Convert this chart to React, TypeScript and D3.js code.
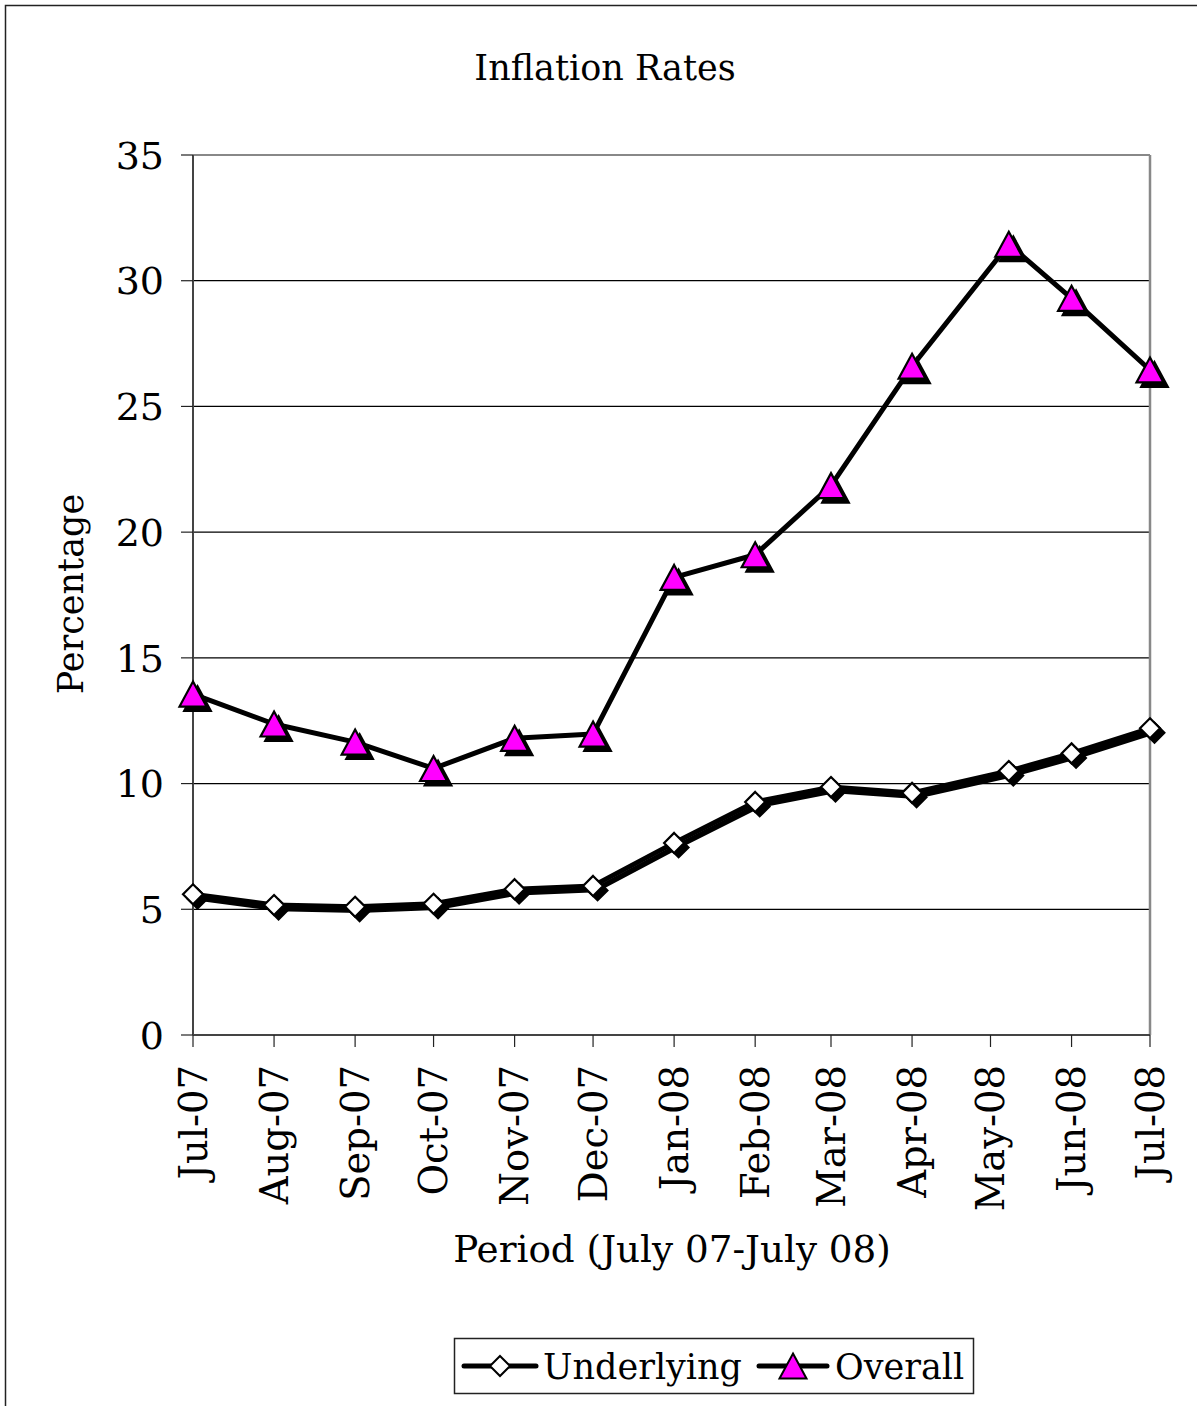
import React from "react";
import * as d3 from "d3";

const periodLabels = ["Jul-07", "Aug-07", "Sep-07", "Oct-07", "Nov-07", "Dec-07", "Jan-08", "Feb-08", "Mar-08", "Apr-08", "May-08", "Jun-08", "Jul-08"];
const tickDates = ["2007-07-01", "2007-08-01", "2007-09-01", "2007-10-01", "2007-11-01", "2007-12-01", "2008-01-01", "2008-02-01", "2008-03-01", "2008-04-01", "2008-05-01", "2008-06-01", "2008-07-01"];
const pointDates = ["2007-07-01", "2007-08-01", "2007-09-01", "2007-10-01", "2007-11-01", "2007-12-01", "2008-01-01", "2008-02-01", "2008-03-01", "2008-04-01", "2008-05-08", "2008-06-01", "2008-07-01"];
const underlying = [5.6, 5.17, 5.1, 5.22, 5.8, 5.93, 7.64, 9.27, 9.86, 9.63, 10.5, 11.2, 12.2];
const overall = [13.56, 12.37, 11.65, 10.6, 11.8, 11.97, 18.2, 19.1, 21.85, 26.6, 31.45, 29.3, 26.45];
const yTicks = [0, 5, 10, 15, 20, 25, 30, 35];
const seriesNames = ["Underlying", "Overall"];

const W = 1197;
const H = 1406;
const PL = 193, PR = 1150, PT = 155, PB = 1035;
const FONT = "'DejaVu Serif', Georgia, serif";
const FS = 35;

const diamondPath = (r: number) => `M0,${-r}L${r},0L0,${r}L${-r},0Z`;
const trianglePath = (hw: number, hh: number) => `M0,${-hh}L${hw},${hh}L${-hw},${hh}Z`;

export default function App() {
  const parse = d3.utcParse("%Y-%m-%d");
  const ticks = tickDates.map((d) => parse(d) as Date);
  const pts = pointDates.map((d) => parse(d) as Date);
  const x = d3.scaleUtc().domain([ticks[0], ticks[ticks.length - 1]]).range([PL, PR]);
  const y = d3.scaleLinear().domain([0, 35]).range([PB, PT]);

  const line = d3
    .line<number>()
    .x((_, i) => x(pts[i]))
    .y((v) => y(v));

  const uPath = line(underlying) || "";
  const oPath = line(overall) || "";
  const dia = diamondPath(10);
  const tri = trianglePath(13.5, 12.5);
  const sh = 4.5;

  return (
    <svg
      width={W}
      height={H}
      style={{ position: "absolute", left: 0, top: 0, background: "#fff" }}
      fontFamily={FONT}
    >
      <rect x={0} y={0} width={W} height={H} fill="#fff" />
      {/* outer chart border */}
      <rect x={5.5} y={5.5} width={W + 20} height={H + 20} fill="none" stroke="#222" strokeWidth={1.5} />

      {/* title */}
      <text x={605} y={80} textAnchor="middle" fontSize={FS} fill="#000">
        Inflation Rates
      </text>

      {/* gridlines */}
      {yTicks.filter((t) => t > 0 && t < 35).map((t) => (
        <line key={"g" + t} x1={PL} x2={PR} y1={y(t)} y2={y(t)} stroke="#000" strokeWidth={1.2} />
      ))}
      {/* plot area border top/right */}
      <line x1={PL} x2={PR} y1={PT} y2={PT} stroke="#888" strokeWidth={2} />
      <line x1={PR} x2={PR} y1={PT} y2={PB} stroke="#888" strokeWidth={2.5} />

      {/* y axis */}
      <line x1={PL} x2={PL} y1={PT} y2={PB} stroke="#444" strokeWidth={2} />
      {yTicks.map((t) => (
        <g key={"y" + t}>
          <line x1={PL - 12} x2={PL} y1={y(t)} y2={y(t)} stroke="#222" strokeWidth={1.2} />
          <text x={164} y={y(t)} dy="0.36em" textAnchor="end" fontSize={38} fill="#000">
            {t}
          </text>
        </g>
      ))}

      {/* x axis */}
      <line x1={PL} x2={PR} y1={PB} y2={PB} stroke="#444" strokeWidth={2} />
      {ticks.map((d, i) => (
        <g key={"x" + i}>
          <line x1={x(d)} x2={x(d)} y1={PB} y2={PB + 12} stroke="#222" strokeWidth={1.2} />
          <text
            transform={`translate(${x(d)},${1065}) rotate(-90)`}
            dy="0.36em"
            textAnchor="end"
            fontSize={38.5}
            fill="#000"
          >
            {periodLabels[i]}
          </text>
        </g>
      ))}

      {/* axis titles */}
      <text x={672} y={1262} textAnchor="middle" fontSize={37.3} fill="#000">
        Period (July 07-July 08)
      </text>
      <text transform={`translate(83,594) rotate(-90)`} textAnchor="middle" fontSize={FS} fill="#000">
        Percentage
      </text>

      {/* Underlying series */}
      <path d={uPath} transform={`translate(3.5,3.5)`} fill="none" stroke="#000" strokeWidth={5.5} strokeLinejoin="round" />
      <path d={uPath} fill="none" stroke="#000" strokeWidth={5} strokeLinejoin="round" />
      {underlying.map((v, i) => (
        <g key={"u" + i} transform={`translate(${x(pts[i])},${y(v)})`}>
          <path d={dia} transform={`translate(${sh},${sh})`} fill="#000" stroke="#000" strokeWidth={2} />
          <path d={dia} fill="#fff" stroke="#000" strokeWidth={2.2} />
        </g>
      ))}

      {/* Overall series */}
      <path d={oPath} fill="none" stroke="#000" strokeWidth={5} strokeLinejoin="round" />
      {overall.map((v, i) => (
        <g key={"o" + i} transform={`translate(${x(pts[i])},${y(v)})`}>
          <path d={tri} transform={`translate(${sh},${sh})`} fill="#000" stroke="#000" strokeWidth={2} />
          <path d={tri} fill="#FF00FF" stroke="#000" strokeWidth={2.2} />
        </g>
      ))}

      {/* legend */}
      <rect x={454.5} y={1338.5} width={519} height={55} fill="#fff" stroke="#222" strokeWidth={1.5} />
      <line x1={464} x2={536} y1={1366} y2={1366} stroke="#000" strokeWidth={5} strokeLinecap="round" />
      <path d={dia} transform={`translate(500,1366)`} fill="#fff" stroke="#000" strokeWidth={2} />
      <text x={543} y={1379} fontSize={FS} fill="#000">
        {seriesNames[0]}
      </text>
      <line x1={759} x2={827} y1={1366} y2={1366} stroke="#000" strokeWidth={5} strokeLinecap="round" />
      <path d={tri} transform={`translate(793,1366)`} fill="#FF00FF" stroke="#000" strokeWidth={2} />
      <text x={835} y={1379} fontSize={FS} fill="#000">
        {seriesNames[1]}
      </text>
    </svg>
  );
}
